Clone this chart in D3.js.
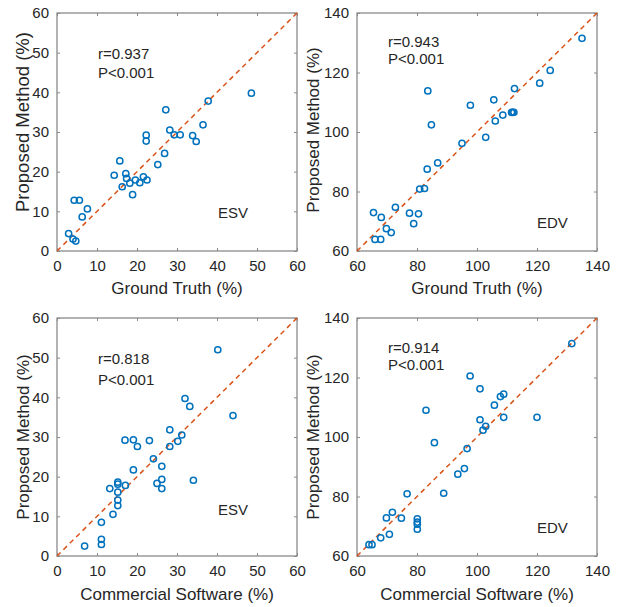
<!DOCTYPE html>
<html>
<head>
<meta charset="utf-8">
<script src="https://cdn.jsdelivr.net/npm/d3@7"></script>
<style>
  html, body { margin: 0; padding: 0; background: #fff; }
  svg { display: block; font-family: "Liberation Sans", Arial, sans-serif; }
</style>
</head>
<body>
<svg id="chart" width="621" height="607"></svg>
<script>
// ---------- data ----------
const esvTicks = [0, 10, 20, 30, 40, 50, 60];
const edvTicks = [60, 80, 100, 120, 140];

// Panel 1: ESV, Ground Truth (x) vs Proposed Method (y)
const esvGtX = [2.9, 4.0, 4.7, 4.3, 5.6, 6.3, 7.6, 14.3, 15.7, 16.3, 17.2, 17.4, 18.2, 18.9, 19.6, 20.7, 21.6, 22.5, 22.3, 22.3, 25.2, 26.9, 27.2, 28.2, 29.3, 30.8, 33.9, 34.8, 36.5, 37.8, 48.6];
const esvGtY = [4.4, 3.0, 2.5, 12.8, 12.8, 8.6, 10.6, 19.1, 22.7, 16.2, 19.5, 18.3, 17.1, 14.2, 17.9, 17.2, 18.7, 17.9, 29.2, 27.7, 21.8, 24.6, 35.6, 30.5, 29.3, 29.3, 29.1, 27.6, 31.8, 37.8, 39.8];

// Panel 2: EDV, Ground Truth (x) vs Proposed Method (y)
const edvGtX = [135.0, 124.4, 120.9, 112.5, 105.6, 111.5, 112.3, 111.9, 108.6, 106.1, 102.9, 97.8, 95.0, 83.6, 84.8, 86.9, 83.4, 80.9, 82.5, 80.5, 77.5, 78.9, 72.8, 65.5, 68.1, 69.8, 71.4, 66.0, 67.9];
const edvGtY = [131.5, 120.7, 116.4, 114.6, 110.8, 106.6, 106.6, 106.6, 105.7, 103.7, 98.2, 109.0, 96.2, 113.8, 102.4, 89.6, 87.5, 80.8, 81.0, 72.5, 72.7, 69.2, 74.7, 72.9, 71.3, 67.5, 66.2, 63.9, 63.9];

// Panel 3: ESV, Commercial Software (x) vs Proposed Method (y)
const esvCsX = [6.9, 11.1, 11.1, 11.1, 14.0, 15.2, 15.2, 15.2, 15.2, 15.2, 13.2, 17.1, 17.0, 19.1, 20.1, 19.1, 23.1, 24.1, 26.2, 25.0, 26.2, 26.2, 28.2, 28.2, 30.2, 31.2, 32.0, 33.2, 34.1, 40.2, 44.0];
const esvCsY = [2.5, 4.2, 2.9, 8.5, 10.5, 12.7, 14.1, 16.1, 18.1, 18.6, 17.0, 17.8, 29.2, 29.3, 27.6, 21.7, 29.1, 24.5, 22.6, 18.3, 19.3, 17.0, 31.8, 27.6, 28.9, 30.5, 39.7, 37.7, 19.1, 52.0, 35.4];

// Panel 4: EDV, Commercial Software (x) vs Proposed Method (y)
const edvCsX = [131.6, 97.7, 101.0, 107.8, 108.9, 105.8, 101.0, 108.9, 120.0, 102.9, 102.0, 83.0, 85.8, 96.7, 95.8, 93.6, 88.9, 76.7, 71.8, 69.8, 74.8, 80.1, 80.1, 80.1, 80.1, 70.8, 67.9, 64.0, 65.0];
const edvCsY = [131.4, 120.5, 116.2, 113.6, 114.4, 110.7, 105.8, 106.6, 106.6, 103.6, 102.3, 109.0, 98.1, 96.1, 89.4, 87.5, 81.1, 80.9, 74.7, 72.8, 72.7, 72.5, 71.4, 70.7, 69.0, 67.3, 66.1, 63.8, 63.8];

const rValues = ["r=0.937", "r=0.943", "r=0.818", "r=0.914"];
const pValues = ["P<0.001", "P<0.001", "P<0.001", "P<0.001"];
const typeLabels = ["ESV", "EDV", "ESV", "EDV"];
const xLabels = ["Ground Truth (%)", "Ground Truth (%)", "Commercial Software (%)", "Commercial Software (%)"];
const yLabel = "Proposed Method (%)";

// ---------- layout ----------
const panels = [
  { left: 57,  top: 13,  xs: esvGtX, ys: esvGtY, domain: [0, 60],   ticks: esvTicks,
    rPos: [98, 59],  pPos: [98, 78],  tPos: [218, 218], ylx: 29,  ylc: 122, yls: 18.5 },
  { left: 357, top: 13,  xs: edvGtX, ys: edvGtY, domain: [60, 140], ticks: edvTicks,
    rPos: [388, 47], pPos: [388, 64], tPos: [537, 228], ylx: 319, ylc: 130, yls: 17 },
  { left: 57,  top: 318, xs: esvCsX, ys: esvCsY, domain: [0, 60],   ticks: esvTicks,
    rPos: [98, 364], pPos: [98, 385], tPos: [218, 515], ylx: 29,  ylc: 437, yls: 17 },
  { left: 357, top: 318, xs: edvCsX, ys: edvCsY, domain: [60, 140], ticks: edvTicks,
    rPos: [388, 353], pPos: [388, 370], tPos: [537, 533], ylx: 319, ylc: 437, yls: 17 }
];
const W = 240, H = 238;
const axisColor = "#8a8a8a";
const textColor = "#262626";

const svg = d3.select("#chart");
svg.append("rect").attr("width", 621).attr("height", 607).attr("fill", "#fff");

panels.forEach((p, i) => {
  const x = d3.scaleLinear().domain(p.domain).range([0, W]);
  const y = d3.scaleLinear().domain(p.domain).range([H, 0]);
  const g = svg.append("g").attr("transform", `translate(${p.left},${p.top})`);

  // axes (bottom/left with labels, top/right without), ticks inward
  const tl = 3;
  const xb = g.append("g").attr("transform", `translate(0,${H})`)
    .call(d3.axisBottom(x).tickValues(p.ticks).tickSizeInner(-tl).tickSizeOuter(0).tickPadding(9));
  const yl = g.append("g")
    .call(d3.axisLeft(y).tickValues(p.ticks).tickSizeInner(-tl).tickSizeOuter(0).tickPadding(8));
  const xt = g.append("g")
    .call(d3.axisTop(x).tickValues(p.ticks).tickSizeInner(-tl).tickSizeOuter(0).tickFormat(""));
  const yr = g.append("g").attr("transform", `translate(${W},0)`)
    .call(d3.axisRight(y).tickValues(p.ticks).tickSizeInner(-tl).tickSizeOuter(0).tickFormat(""));
  [xb, yl, xt, yr].forEach(a => {
    a.select(".domain").remove();
    a.selectAll(".tick line").attr("stroke", axisColor).attr("stroke-width", 1);
    a.selectAll(".tick text").attr("fill", textColor)
      .style("font-size", "15px").style("font-family", '"Liberation Sans", Arial, sans-serif');
  });
  xb.selectAll(".tick text").attr("dy", "0.71em").attr("y", 9);

  // box
  g.append("rect").attr("x", 0).attr("y", 0).attr("width", W).attr("height", H)
    .attr("fill", "none").attr("stroke", axisColor).attr("stroke-width", 1.3);

  // identity line
  g.append("line")
    .attr("x1", x(p.domain[0])).attr("y1", y(p.domain[0]))
    .attr("x2", x(p.domain[1])).attr("y2", y(p.domain[1]))
    .attr("stroke", "#D95319").attr("stroke-width", 1.5)
    .attr("stroke-dasharray", "5,4");

  // points
  g.selectAll("circle.pt").data(p.xs.map((v, k) => [v, p.ys[k]]))
    .enter().append("circle").attr("class", "pt")
    .attr("cx", d => x(d[0])).attr("cy", d => y(d[1]))
    .attr("r", 3.1).attr("fill", "none")
    .attr("stroke", "#0072BD").attr("stroke-width", 1.5);

  // annotations (absolute coords)
  const tx = (pos, txt) => svg.append("text").attr("x", pos[0]).attr("y", pos[1])
    .attr("fill", textColor).style("font-size", "15px").text(txt);
  tx(p.rPos, rValues[i]);
  tx(p.pPos, pValues[i]);
  tx(p.tPos, typeLabels[i]);

  // x label
  svg.append("text")
    .attr("x", p.left + W / 2).attr("y", p.top + H + (i < 2 ? 43 : 44))
    .attr("text-anchor", "middle").attr("fill", textColor)
    .style("font-size", "17px").text(xLabels[i]);
  // y label
  svg.append("text")
    .attr("transform", `translate(${p.ylx},${p.ylc}) rotate(-90)`)
    .attr("text-anchor", "middle").attr("fill", textColor)
    .style("font-size", p.yls + "px").text(yLabel);
});
</script>
</body>
</html>
